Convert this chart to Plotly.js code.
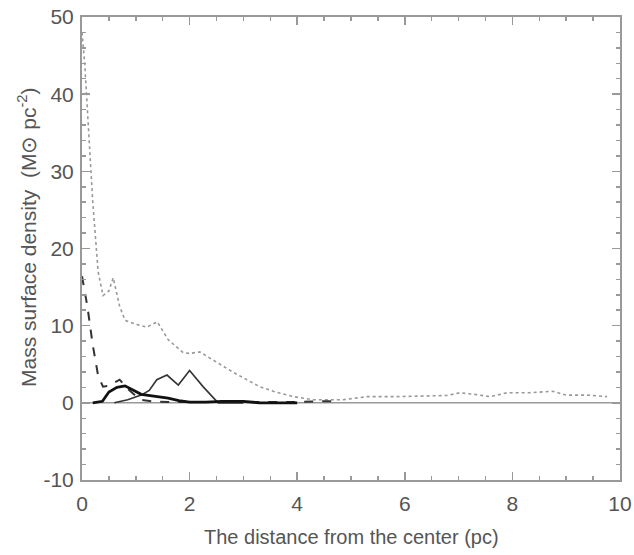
<!DOCTYPE html>
<html>
<head>
<meta charset="utf-8">
<script src="https://cdn.plot.ly/plotly-3.0.1.min.js"></script>
<style>html,body{margin:0;padding:0;background:#fff;}#chart{width:634px;height:555px;}</style>
</head>
<body>
<div id="chart"></div>
<script>
// Dotted light-gray series
const dotX = [0.0, 0.05, 0.1, 0.2, 0.3, 0.39, 0.5, 0.58, 0.7, 0.8, 1.0, 1.2, 1.4, 1.6, 1.88, 2.0, 2.19, 2.5, 2.8, 3.3, 3.6, 3.93, 4.3, 4.85, 5.3, 5.8, 6.3, 6.78, 7.02, 7.3, 7.58, 7.9, 8.3, 8.75, 9.0, 9.4, 9.76];
const dotY = [48, 44, 38, 26, 17, 13.9, 14.5, 16.2, 12.5, 10.7, 10.2, 9.8, 10.5, 8.2, 6.5, 6.4, 6.6, 5.3, 4.0, 2.1, 1.4, 0.8, 0.4, 0.4, 0.8, 0.8, 0.9, 0.95, 1.3, 1.1, 0.8, 1.3, 1.3, 1.5, 1.0, 1.0, 0.8];
// Dashed dark series
const dashX = [0.0, 0.1, 0.2, 0.3, 0.39, 0.5, 0.7, 0.85, 1.08, 1.3, 1.6, 2.0, 2.5, 3.0, 3.5, 4.0, 4.5, 4.8];
const dashY = [16.4, 12.5, 7.5, 3.5, 2.1, 2.2, 3.0, 1.8, 0.4, 0.2, 0.1, 0.1, 0.1, 0.1, 0.1, 0.1, 0.2, 0.2];
// Thick solid series
const thickX = [0.2, 0.38, 0.5, 0.65, 0.8, 0.95, 1.1, 1.3, 1.6, 1.8, 2.0, 2.3, 2.6, 3.0, 3.3, 4.0];
const thickY = [0.0, 0.2, 1.4, 2.0, 2.2, 1.7, 1.1, 0.9, 0.6, 0.3, 0.1, 0.1, 0.2, 0.2, 0.0, 0.0];
// Thin solid series
const thinX = [0.6, 0.85, 1.1, 1.25, 1.39, 1.58, 1.79, 2.0, 2.25, 2.53, 3.0];
const thinY = [0.0, 0.4, 1.0, 1.6, 3.0, 3.6, 2.3, 4.2, 2.1, 0.0, 0.0];
// Zero reference line
const zeroX = [0, 10];
const zeroY = [0, 0];
// Tick labels
const xTicks = [0, 2, 4, 6, 8, 10];
const yTicks = [-10, 0, 10, 20, 30, 40, 50];

const FONT = 'Liberation Sans, Arial, sans-serif';

const traces = [
  {x: zeroX, y: zeroY, mode: 'lines', line: {color: '#999', width: 1.5}, hoverinfo: 'skip'},
  {x: dotX, y: dotY, mode: 'lines', line: {color: '#999', width: 1.6, dash: 'dot'}},
  {x: dashX, y: dashY, mode: 'lines', line: {color: '#333', width: 2, dash: 'dash'}},
  {x: thinX, y: thinY, mode: 'lines', line: {color: '#333', width: 1.6}},
  {x: thickX, y: thickY, mode: 'lines', line: {color: '#111', width: 2.8}}
];

const axisCommon = {
  showgrid: false, zeroline: false, showline: true, linecolor: '#999', linewidth: 2,
  mirror: 'ticks', ticks: 'inside', ticklen: 8, tickcolor: '#999', tickwidth: 1.5,
  tickfont: {family: FONT, size: 21, color: '#555'}
};

const layout = {
  width: 634, height: 555,
  margin: {l: 82, r: 14, t: 17, b: 75},
  paper_bgcolor: '#fff', plot_bgcolor: '#fff',
  showlegend: false,
  xaxis: Object.assign({}, axisCommon, {
    range: [0, 10], tickvals: xTicks, ticktext: xTicks.map(String),
    ticklabelstandoff: 4,
    minor: {dtick: 0.5, tick0: 0, ticks: 'inside', ticklen: 4, tickcolor: '#999'}
  }),
  yaxis: Object.assign({}, axisCommon, {
    range: [-10, 50], tickvals: yTicks, ticktext: yTicks.map(String),
    ticklabelstandoff: 2,
    minor: {dtick: 2, tick0: 0, ticks: 'inside', ticklen: 4, tickcolor: '#999'}
  }),
  annotations: [
    {text: 'The distance from the center (pc)', xref: 'paper', yref: 'paper',
     x: 0.5, y: -0.123, xanchor: 'center', yanchor: 'middle', showarrow: false,
     font: {family: FONT, size: 20, color: '#555'}},
    {text: 'Mass surface density  (M⊙ pc<sup>-2</sup>)', xref: 'paper', yref: 'paper',
     x: -0.102, y: 0.523, xanchor: 'center', yanchor: 'middle', showarrow: false, textangle: -90,
     font: {family: FONT, size: 21, color: '#555'}}
  ]
};

Plotly.newPlot('chart', traces, layout, {displayModeBar: false, staticPlot: true});
</script>
</body>
</html>
